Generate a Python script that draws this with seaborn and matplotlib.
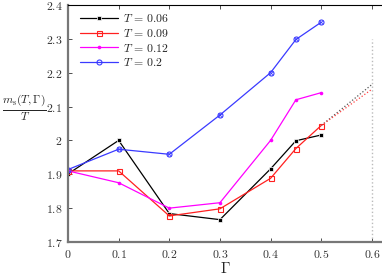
import numpy as np
import pandas as pd
import matplotlib
matplotlib.use("Agg")
import matplotlib.pyplot as plt
import seaborn as sns
from matplotlib.ticker import FuncFormatter, MultipleLocator

gamma = [0.0, 0.1, 0.2, 0.3, 0.4, 0.45, 0.5]
ms_006 = [1.901, 2.000, 1.784, 1.766, 1.916, 1.999, 2.016]
ms_009 = [1.910, 1.910, 1.777, 1.798, 1.888, 1.976, 2.044]
ms_012 = [1.910, 1.875, 1.800, 1.816, 2.000, 2.120, 2.141]
ms_020 = [1.914, 1.974, 1.959, 2.075, 2.200, 2.298, 2.349]

# dotted extrapolation from Gamma=0.5 to 0.6
extrap_x = [0.5, 0.6]
extrap_006 = [2.044, 2.165]
extrap_009 = [2.044, 2.151]

labels = ["$T\\,=\\,0.06$", "$T\\,=\\,0.09$", "$T\\,=\\,0.12$", "$T\\,=\\,0.2$"]

sns.set_style("white")
plt.rcParams["mathtext.fontset"] = "cm"
plt.rcParams["font.family"] = ["DejaVu Serif"]

fig = plt.figure(figsize=(3.82, 2.75), dpi=100)
ax = fig.add_axes([0.178, 0.12, 0.822, 0.862])

sns.lineplot(x=gamma, y=ms_006, ax=ax, color="black", marker="s", markersize=2.8,
             markeredgewidth=0.5, lw=0.9, label=labels[0])
sns.lineplot(x=gamma, y=ms_009, ax=ax, color="#ff2020", marker="s", markersize=3.6,
             markerfacecolor="none", markeredgecolor="#ff2020", markeredgewidth=0.8,
             lw=0.9, label=labels[1])
sns.lineplot(x=gamma, y=ms_012, ax=ax, color="#ff00ff", marker="o", markersize=2.6,
             markeredgewidth=0, lw=0.9, label=labels[2])
sns.lineplot(x=gamma, y=ms_020, ax=ax, color="#3a3aff", marker="o", markersize=3.6,
             markerfacecolor="none", markeredgecolor="#3a3aff", markeredgewidth=0.8,
             lw=0.9, label=labels[3])
# cross inside the blue circles
ax.plot(gamma, ms_020, ls="none", marker="x", markersize=2.4, color="#3a3aff",
        markeredgewidth=0.5)

ax.plot(extrap_x, extrap_006, ls=":", color="#555555", lw=0.9)
ax.plot(extrap_x, extrap_009, ls=":", color="#ff4040", lw=0.9)
ax.plot([0.6, 0.6], [1.7, 2.3], ls=":", color="#bbbbbb", lw=1.0)

ax.set_xlim(0, 0.62)
ax.set_ylim(1.7, 2.4)
ax.xaxis.set_major_locator(MultipleLocator(0.1))
ax.yaxis.set_major_locator(MultipleLocator(0.1))
fmt = FuncFormatter(lambda v, p: "$%s$" % ("%g" % round(v, 2)))
ax.xaxis.set_major_formatter(fmt)
ax.yaxis.set_major_formatter(fmt)
ax.tick_params(direction="in", length=3, width=0.6, labelsize=8.5, colors="#333333",
               top=True, bottom=True, left=True, right=False, pad=4)

for side in ["left", "bottom"]:
    ax.spines[side].set_color("#777777")
    ax.spines[side].set_linewidth(1.6)
ax.spines["top"].set_color("black")
ax.spines["top"].set_linewidth(0.8)
ax.spines["right"].set_visible(False)

ax.set_xlabel(r"$\Gamma$", fontsize=11, labelpad=0)
ax.set_ylabel(r"$\frac{m_{\rm s}(T,\Gamma)}{T}$", fontsize=12, rotation=0)
ax.yaxis.set_label_coords(-0.138, 0.5)

leg = ax.legend(loc="upper left", frameon=False, fontsize=8.5, handlelength=3.2,
                labelspacing=0.15, borderaxespad=0.2, handletextpad=0.5,
                bbox_to_anchor=(0.015, 1.0))

fig.savefig("out.png", dpi=100)
